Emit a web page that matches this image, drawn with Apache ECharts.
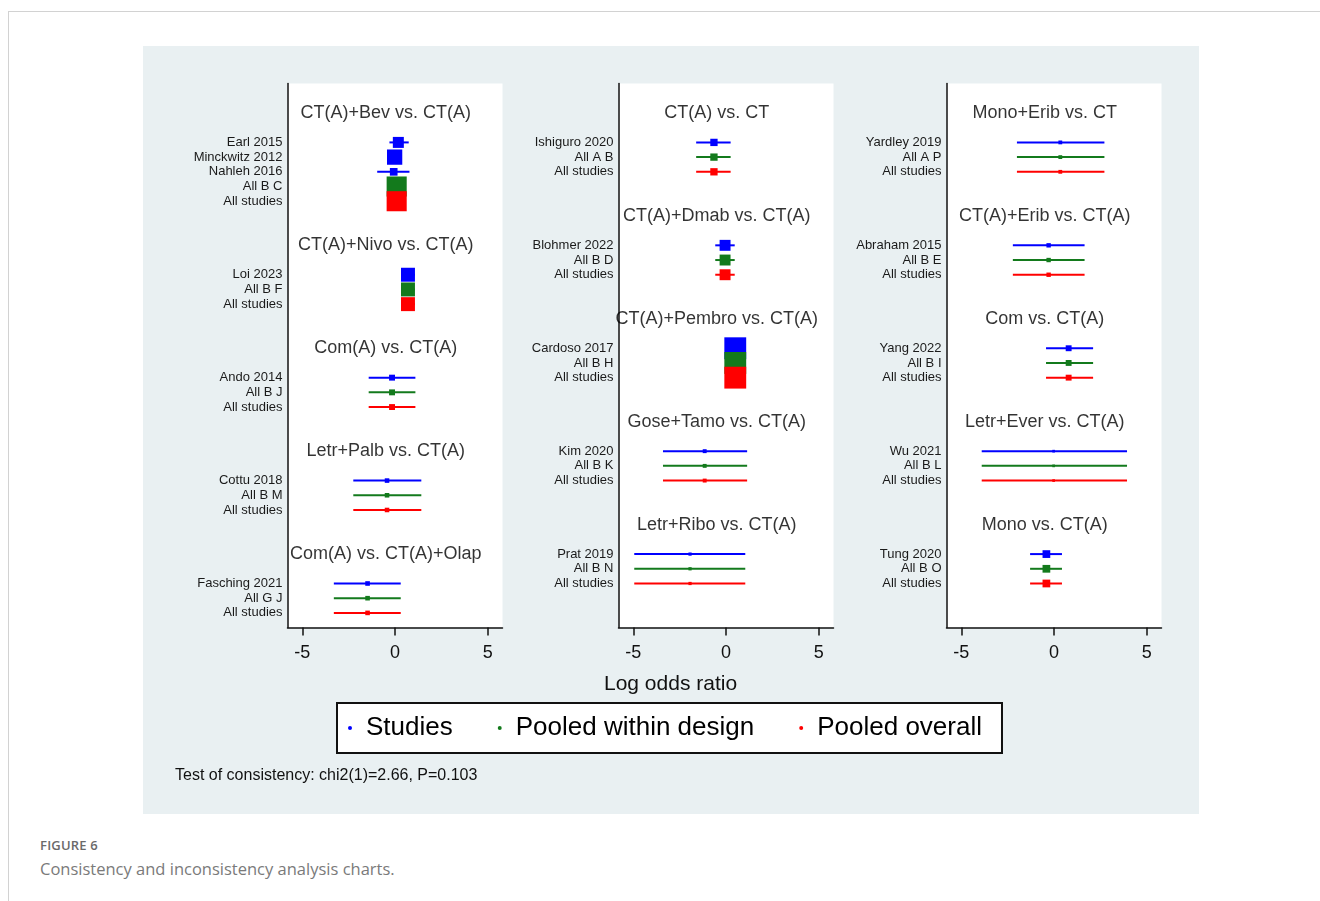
<!DOCTYPE html>
<html>
<head>
<meta charset="utf-8">
<script src="https://cdn.jsdelivr.net/npm/echarts@6/dist/echarts.min.js"></script>
<style>
  html, body { margin: 0; padding: 0; background: #fff; width: 1320px; height: 901px; overflow: hidden; }
  #frame { position: absolute; left: 8px; top: 11px; width: 1400px; height: 1000px;
           border-left: 1px solid #d2d2d2; border-top: 1px solid #d2d2d2; }
  #chart { position: absolute; left: 143px; top: 46px; width: 1056px; height: 768px; }
  #figlabel { position: absolute; left: 40px; top: 836px; font-family: "Open Sans", sans-serif;
              font-size: 13px; font-weight: 600; color: #6a6a6a; letter-spacing: 0.2px; }
  #figcap { position: absolute; left: 40px; top: 857px; font-family: "Open Sans", sans-serif;
            font-size: 16.5px; color: #7a7a7a; }
</style>
</head>
<body>
<div id="frame"></div>
<div id="chart"></div>
<div id="figlabel">FIGURE 6</div>
<div id="figcap">Consistency and inconsistency analysis charts.</div>
<script>
// ---------------- data ----------------
const legendNames = ["Studies", "Pooled within design", "Pooled overall"];
const xTicks = [-5, 0, 5];

// Panel 1
const p1Designs = ["CT(A)+Bev vs. CT(A)", "CT(A)+Nivo vs. CT(A)", "Com(A) vs. CT(A)", "Letr+Palb vs. CT(A)", "Com(A) vs. CT(A)+Olap"];
const p1RowCounts = [5, 3, 3, 3, 3];
const p1Labels = ["Earl 2015", "Minckwitz 2012", "Nahleh 2016", "All B C", "All studies",
                  "Loi 2023", "All B F", "All studies",
                  "Ando 2014", "All B J", "All studies",
                  "Cottu 2018", "All B M", "All studies",
                  "Fasching 2021", "All G J", "All studies"];
const p1Est = [0.18, -0.02, -0.07, 0.09, 0.09,  0.70, 0.70, 0.70,  -0.16, -0.16, -0.16,  -0.43, -0.43, -0.43,  -1.48, -1.48, -1.48];
const p1Lo  = [-0.30, -0.34, -0.96, -0.13, -0.13,  0.33, 0.33, 0.33,  -1.42, -1.42, -1.42,  -2.25, -2.25, -2.25,  -3.30, -3.30, -3.30];
const p1Hi  = [0.74, 0.31, 0.78, 0.31, 0.31,  1.07, 1.07, 1.07,  1.10, 1.10, 1.10,  1.42, 1.42, 1.42,  0.31, 0.31, 0.31];

// Panel 2
const p2Designs = ["CT(A) vs. CT", "CT(A)+Dmab vs. CT(A)", "CT(A)+Pembro vs. CT(A)", "Gose+Tamo vs. CT(A)", "Letr+Ribo vs. CT(A)"];
const p2RowCounts = [3, 3, 3, 3, 3];
const p2Labels = ["Ishiguro 2020", "All A B", "All studies",
                  "Blohmer 2022", "All B D", "All studies",
                  "Cardoso 2017", "All B H", "All studies",
                  "Kim 2020", "All B K", "All studies",
                  "Prat 2019", "All B N", "All studies"];
const p2Est = [-0.65, -0.65, -0.65,  -0.05, -0.05, -0.05,  0.50, 0.50, 0.50,  -1.15, -1.15, -1.15,  -1.94, -1.94, -1.94];
const p2Lo  = [-1.61, -1.61, -1.61,  -0.58, -0.58, -0.58,  0.30, 0.30, 0.30,  -3.40, -3.40, -3.40,  -4.95, -4.95, -4.95];
const p2Hi  = [0.25, 0.25, 0.25,  0.47, 0.47, 0.47,  0.69, 0.69, 0.69,  1.14, 1.14, 1.14,  1.04, 1.04, 1.04];

// Panel 3
const p3Designs = ["Mono+Erib vs. CT", "CT(A)+Erib vs. CT(A)", "Com vs. CT(A)", "Letr+Ever vs. CT(A)", "Mono vs. CT(A)"];
const p3RowCounts = [3, 3, 3, 3, 3];
const p3Labels = ["Yardley 2019", "All A P", "All studies",
                  "Abraham 2015", "All B E", "All studies",
                  "Yang 2022", "All B I", "All studies",
                  "Wu 2021", "All B L", "All studies",
                  "Tung 2020", "All B O", "All studies"];
const p3Est = [0.34, 0.34, 0.34,  -0.29, -0.29, -0.29,  0.79, 0.79, 0.79,  -0.02, -0.02, -0.02,  -0.41, -0.41, -0.41];
const p3Lo  = [-2.00, -2.00, -2.00,  -2.22, -2.22, -2.22,  -0.43, -0.43, -0.43,  -3.90, -3.90, -3.90,  -1.29, -1.29, -1.29];
const p3Hi  = [2.72, 2.72, 2.72,  1.65, 1.65, 1.65,  2.11, 2.11, 2.11,  3.94, 3.94, 3.94,  0.43, 0.43, 0.43];

const consistencyText = "Test of consistency: chi2(1)=2.66, P=0.103";
const xAxisTitle = "Log odds ratio";

// ---------------- layout / style ----------------
const FONT = "'Liberation Sans', Arial, sans-serif";
const COLORS = ["#0000ff", "#137a1c", "#ff0000"];
const panelLeft = [144.5, 475.5, 803.5];
const GRID_TOP = 37.6, GRID_H = 544, GRID_W = 215;

const panels = [
  [p1Designs, p1RowCounts, p1Labels, p1Est, p1Lo, p1Hi],
  [p2Designs, p2RowCounts, p2Labels, p2Est, p2Lo, p2Hi],
  [p3Designs, p3RowCounts, p3Labels, p3Est, p3Lo, p3Hi]
];

const grids = [], xAxes = [], yAxes = [], series = [];

panels.forEach((p, pi) => {
  const [designs, counts, labels, est, lo, hi] = p;
  const labelMap = {};
  const titleData = [];
  const byKind = [[], [], []];
  let s = 0, r = 0;
  designs.forEach((d, di) => {
    titleData.push({ name: d, value: [-0.5, s] });
    const n = counts[di];
    for (let j = 0; j < n; j++) {
      const slot = s + 2 + j;
      const kind = j === n - 1 ? 2 : (j === n - 2 ? 1 : 0);
      labelMap[slot] = labels[r];
      byKind[kind].push([est[r], slot, lo[r], hi[r]]);
      r++;
    }
    s = s + 2 + n + 2;
  });

  grids.push({ left: panelLeft[pi], top: GRID_TOP, width: GRID_W, height: GRID_H,
               show: true, backgroundColor: "#ffffff", borderWidth: 0 });
  xAxes.push({
    gridIndex: pi, type: "value", min: -5.8, max: 5.8,
    axisLine: { show: true, onZero: false, lineStyle: { color: "#111", width: 1.5 } },
    axisTick: { show: true, length: 8, customValues: xTicks, lineStyle: { color: "#111", width: 1.5 } },
    axisLabel: { customValues: xTicks, fontSize: 18, color: "#111", fontFamily: FONT, margin: 16 },
    splitLine: { show: false }
  });
  yAxes.push({
    gridIndex: pi, type: "value", inverse: true, min: -2, max: 35, interval: 1,
    axisLine: { show: true, onZero: false, lineStyle: { color: "#111", width: 1.5 } },
    axisTick: { show: false },
    splitLine: { show: false },
    axisLabel: { fontSize: 13, color: "#1a1a1a", fontFamily: FONT, margin: 5,
                 formatter: v => labelMap[v] || "" }
  });

  // CI lines
  byKind.forEach((rows, k) => {
    series.push({
      type: "custom", xAxisIndex: pi, yAxisIndex: pi, z: 2, silent: true,
      data: rows, encode: { x: [0, 2, 3], y: 1 },
      renderItem: (params, api) => {
        const y = api.value(1);
        const a = api.coord([api.value(2), y]);
        const b = api.coord([api.value(3), y]);
        return { type: "line", shape: { x1: a[0], y1: a[1], x2: b[0], y2: b[1] },
                 style: { stroke: COLORS[k], lineWidth: 2 } };
      }
    });
  });
  // markers (size from precision of estimate)
  byKind.forEach((rows, k) => {
    series.push({
      type: "scatter", name: legendNames[k], xAxisIndex: pi, yAxisIndex: pi, z: 3,
      symbol: "rect", silent: true,
      symbolSize: v => 11 * Math.pow(1.04 / (v[3] - v[2]), 0.7),
      itemStyle: { color: COLORS[k], opacity: 1 },
      data: rows
    });
  });
  // design titles
  series.push({
    type: "scatter", xAxisIndex: pi, yAxisIndex: pi, z: 4, symbolSize: 0, silent: true,
    data: titleData,
    label: { show: true, position: "inside", formatter: "{b}", fontSize: 18, color: "#000", fontFamily: FONT }
  });
});

const chart = echarts.init(document.getElementById("chart"), null, { renderer: "canvas" });
chart.setOption({
  backgroundColor: "#e9f0f2",
  animation: false,
  grid: grids, xAxis: xAxes, yAxis: yAxes, series: series,
  legend: {
    data: legendNames.map(n => ({ name: n, icon: "circle" })),
    left: 194, top: 657, orient: "horizontal",
    padding: [12, 20, 12, 11], itemGap: 45, itemWidth: 4, itemHeight: 4,
    backgroundColor: "#ffffff", borderColor: "#111", borderWidth: 2,
    selectedMode: false,
    textStyle: { fontSize: 26, color: "#000", fontFamily: FONT, padding: [0, 0, 0, 9] }
  },
  graphic: [
    { type: "text", left: 527 - 66, top: 628,
      style: { text: xAxisTitle, font: "21px " + FONT, fill: "#111" } },
    { type: "text", left: 32, top: 722,
      style: { text: consistencyText, font: "16px " + FONT, fill: "#111" } }
  ]
});
</script>
</body>
</html>
